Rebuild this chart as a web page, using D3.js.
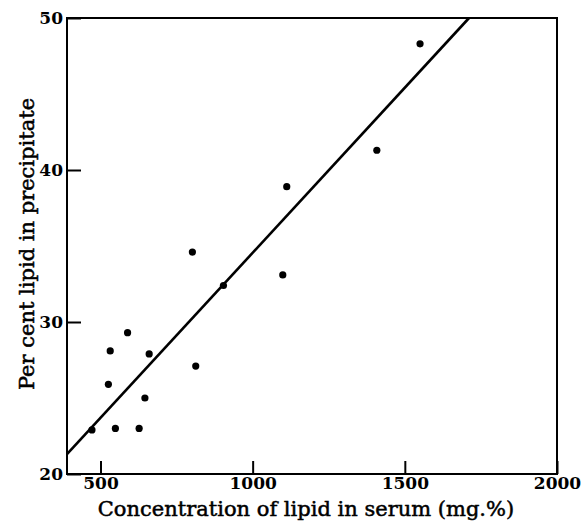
<!DOCTYPE html>
<html>
<head>
<meta charset="utf-8">
<script src="https://cdn.jsdelivr.net/npm/d3@7"></script>
<style>
  body { margin: 0; background: #fff; }
  .tick text { font-family: "DejaVu Serif", serif; font-weight: bold; font-size: 17px; fill: #000; }
  .axis-title { font-family: "DejaVu Serif", serif; font-size: 21px; fill: #000; stroke: #000; stroke-width: 0.5; }
</style>
</head>
<body>
<script>
// serum lipid (mg.%) vs per cent lipid in precipitate
var serum = [472, 549, 627, 526, 646, 532, 589, 660, 813, 802, 904, 1099, 1112, 1408, 1550];
var precip = [22.9, 23.0, 23.0, 25.9, 25.0, 28.1, 29.3, 27.9, 27.1, 34.6, 32.4, 33.1, 38.9, 41.3, 48.3];

// fitted line end points
var fitX = [390, 1711];
var fitY = [21.3, 50];

var xTicks = [500, 1000, 1500, 2000];
var yTicks = [20, 30, 40, 50];

var width = 581, height = 527;
var margin = {left: 67, right: 557, top: 18, bottom: 474};

var x = d3.scaleLinear()
        .domain([390, 2000])
        .range([margin.left, margin.right]);

var y = d3.scaleLinear()
        .domain([20, 50])
        .range([margin.bottom, margin.top]);

var svg = d3.select("body").append("svg")
        .attr("width", width)
        .attr("height", height);

// frame
svg.append("rect")
        .attr("x", margin.left)
        .attr("y", margin.top)
        .attr("width", margin.right - margin.left)
        .attr("height", margin.bottom - margin.top)
        .attr("fill", "none")
        .attr("stroke", "#000")
        .attr("stroke-width", 2);

var xAxis = d3.axisBottom(x)
        .tickValues(xTicks)
        .tickFormat(d3.format("d"))
        .tickSizeInner(-13)
        .tickSizeOuter(0)
        .tickPadding(4);

var yAxis = d3.axisLeft(y)
        .tickValues(yTicks)
        .tickFormat(d3.format("d"))
        .tickSizeInner(-14)
        .tickSizeOuter(0)
        .tickPadding(4);

var gx = svg.append("g")
        .attr("class", "x axis")
        .attr("transform", "translate(0," + margin.bottom + ")")
        .call(xAxis);
gx.select(".domain").remove();
gx.selectAll(".tick line").attr("stroke", "#000").attr("stroke-width", 2);
gx.selectAll(".tick text").attr("y", 1).attr("dy", "0.8em");

var gy = svg.append("g")
        .attr("class", "y axis")
        .attr("transform", "translate(" + margin.left + ",0)")
        .call(yAxis);
gy.select(".domain").remove();
gy.selectAll(".tick line").attr("stroke", "#000").attr("stroke-width", 2);

// regression line
var line = d3.line()
        .x(function(d) { return x(d[0]); })
        .y(function(d) { return y(d[1]); });

svg.append("path")
        .datum(d3.zip(fitX, fitY))
        .attr("d", line)
        .attr("fill", "none")
        .attr("stroke", "#000")
        .attr("stroke-width", 2.6);

svg.append("g")
        .selectAll("circle")
        .data(d3.zip(serum, precip))
    .enter().append("circle")
        .attr("cx", function(d) { return x(d[0]); })
        .attr("cy", function(d) { return y(d[1]); })
        .attr("r", 3.6)
        .attr("fill", "#000");

svg.append("text")
        .attr("class", "axis-title")
        .attr("x", 306)
        .attr("y", 516)
        .attr("text-anchor", "middle")
        .text("Concentration of lipid in serum (mg.%)");

svg.append("text")
        .attr("class", "axis-title")
        .attr("transform", "translate(34,244) rotate(-90)")
        .attr("text-anchor", "middle")
        .text("Per cent lipid in precipitate");
</script>
</body>
</html>
